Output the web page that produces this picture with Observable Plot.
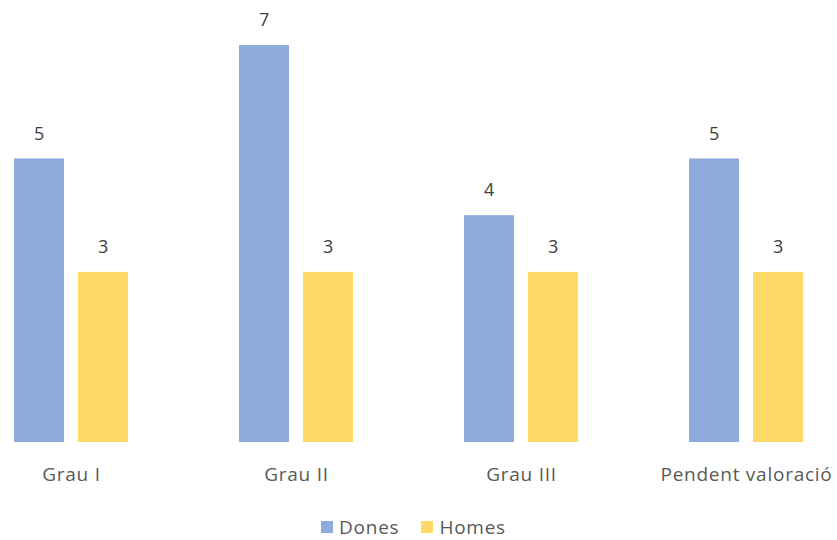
<!DOCTYPE html>
<html>
<head>
<meta charset="utf-8">
<script src="https://cdn.jsdelivr.net/npm/d3@7"></script>
<script src="https://cdn.jsdelivr.net/npm/@observablehq/plot@0.6"></script>
<style>
  html, body { margin: 0; padding: 0; background: #fff; }
  body { width: 837px; height: 540px; overflow: hidden; font-family: "Open Sans", sans-serif; }
  #legend { display: flex; justify-content: center; align-items: center; gap: 22px; font-size: 19px; letter-spacing: 0.75px; color: #595959; height: 30px; margin-top: 4px; margin-left: -10px; }
  #legend .item { display: flex; align-items: center; gap: 6px; }
  #legend .sw { width: 12px; height: 12px; display: inline-block; }
  svg text { letter-spacing: 0.75px; }
</style>
</head>
<body>
<div id="chart"></div>
<div id="legend"></div>
<script>
const categories = ["Grau I", "Grau II", "Grau III", "Pendent valoració"];
const series = ["Dones", "Homes"];
const dones = [5, 7, 4, 5];
const homes = [3, 3, 3, 3];
const colors = ["#8FAADC", "#FFD966"];

const data = [];
categories.forEach((c, i) => {
  data.push({category: c, series: "Dones", value: dones[i]});
  data.push({category: c, series: "Homes", value: homes[i]});
});

const height = 508;
const chart = Plot.plot({
  width: 837,
  height,
  marginTop: 45,
  marginBottom: height - 442,
  marginLeft: 14,
  marginRight: 34,
  style: {fontFamily: "Open Sans, sans-serif", fontSize: "19px", background: "#fff", overflow: "visible"},
  fx: {domain: categories, paddingInner: 111 / 225, paddingOuter: 0, label: null},
  x: {domain: series, paddingInner: 0.21875, paddingOuter: 0, axis: null},
  y: {domain: [0, 7], axis: null},
  color: {domain: series, range: colors},
  marks: [
    Plot.axisFx({anchor: "bottom", tickSize: 0, tickPadding: 25, fontSize: 19, fill: "#595959", label: null}),
    Plot.barY(data, {fx: "category", x: "series", y: "value", fill: "series"}),
    Plot.text(data, {fx: "category", x: "series", y: "value", text: d => String(d.value), dy: -25, fill: "#404040", fontSize: 18})
  ]
});
document.getElementById("chart").appendChild(chart);

const legend = document.getElementById("legend");
series.forEach((s, i) => {
  const item = document.createElement("span");
  item.className = "item";
  const sw = document.createElement("span");
  sw.className = "sw";
  sw.style.background = colors[i];
  item.appendChild(sw);
  item.appendChild(document.createTextNode(s));
  legend.appendChild(item);
});
</script>
</body>
</html>
